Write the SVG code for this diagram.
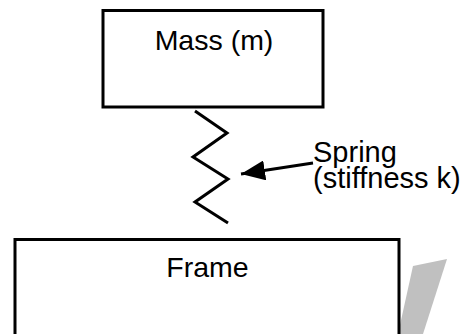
<svg xmlns="http://www.w3.org/2000/svg" width="466" height="334" viewBox="0 0 466 334">
<style>
.box{fill:#fff;stroke:#000;stroke-width:3}
.lbl{font-family:"Liberation Sans",Arial,sans-serif;font-size:28.5px;fill:#000}
.ln{fill:none;stroke:#000;stroke-width:3}
</style>
<defs>
<marker id="ah" markerUnits="userSpaceOnUse" markerWidth="24" markerHeight="20" refX="24" refY="10" orient="auto" viewBox="0 0 24 20">
<path d="M0,0 L24,10 L0,20 Z" fill="#000"/>
</marker>
</defs>
<rect width="466" height="334" fill="#fff"/>
<polygon id="shade" points="413,266 447,259 423,334 398,334" fill="#c0c0c0"/>
<g id="mass">
<rect class="box" x="103" y="10.5" width="220" height="96.5"/>
<text class="lbl" x="214" y="49.5" text-anchor="middle">Mass (m)</text>
</g>
<g id="frame">
<rect class="box" x="15" y="239.5" width="384" height="96"/>
<text class="lbl" x="207.5" y="277" text-anchor="middle">Frame</text>
</g>
<g id="spring">
<polyline class="ln" points="195,111 227,133 193,157 228,179 195,202 228,223"/>
</g>
<g id="spring-label">
<text class="lbl" style="font-size:29px"><tspan x="313" y="161.5">Spring</tspan><tspan x="313" y="188">(stiffness k)</tspan></text>
</g>
<g id="connectors">
<line class="ln" x1="313" y1="163" x2="241" y2="174" marker-end="url(#ah)"/>
</g>
</svg>
